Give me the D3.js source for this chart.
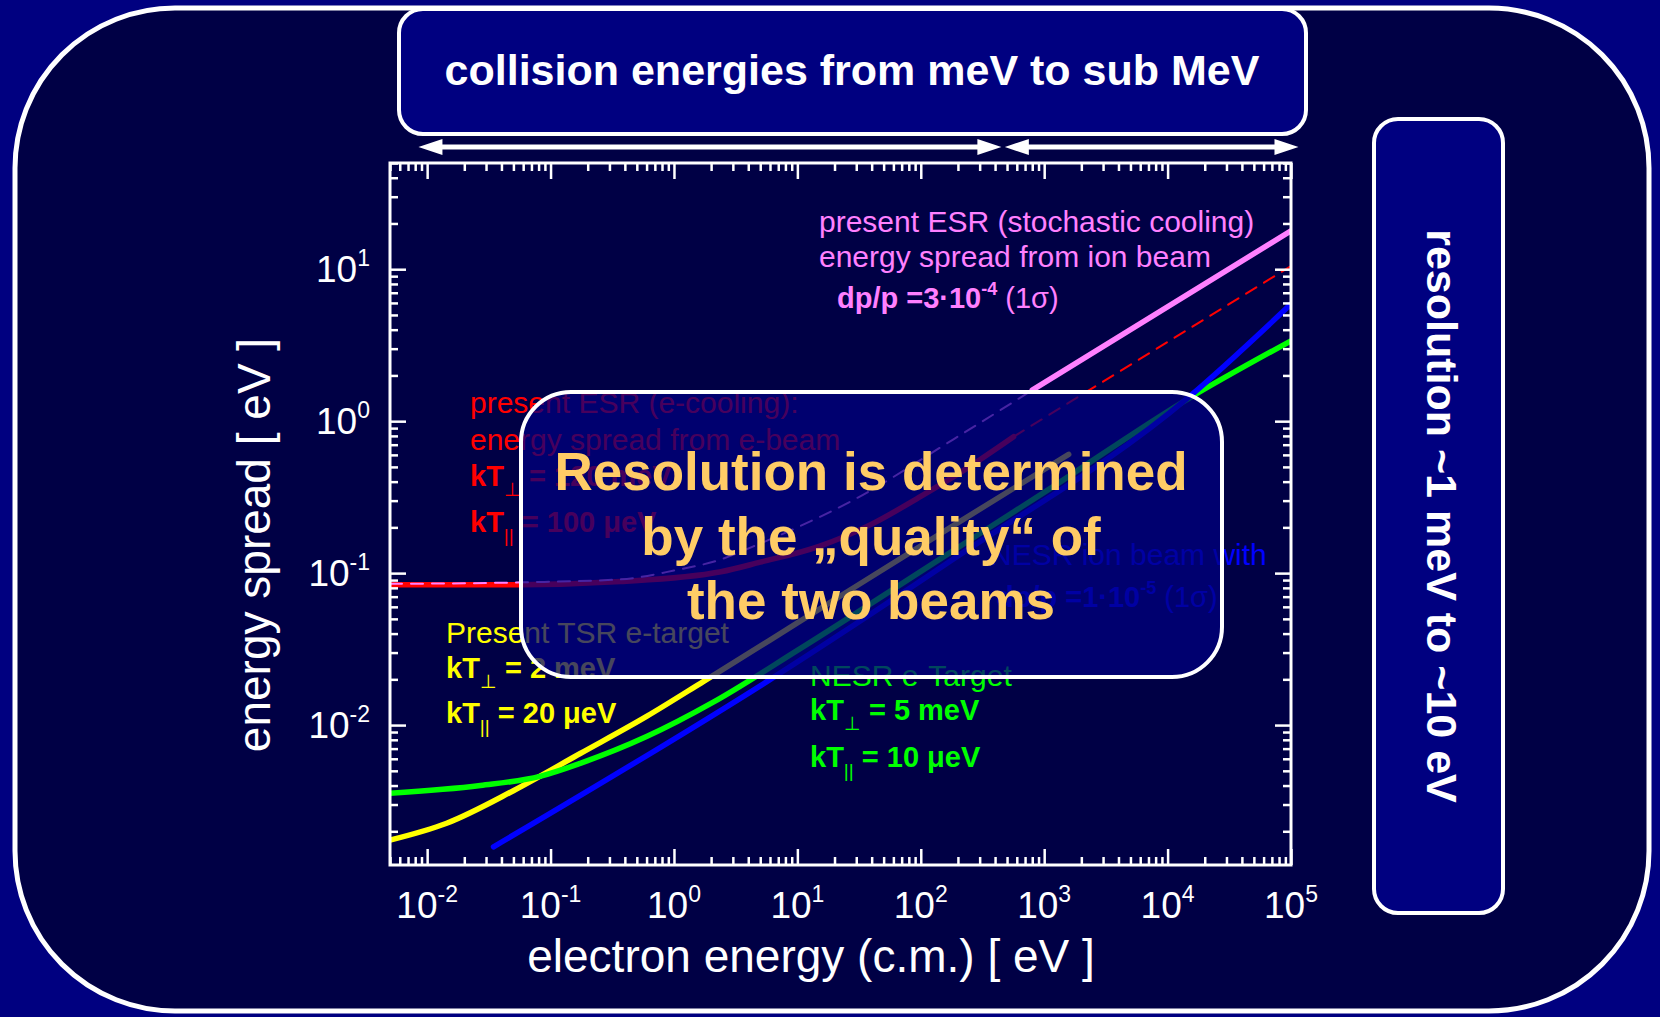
<!DOCTYPE html>
<html>
<head>
<meta charset="utf-8">
<script src="https://cdn.jsdelivr.net/npm/d3@7"></script>
<style>
  body { margin: 0; background: #000080; }
  svg { display: block; font-family: "Liberation Sans", Arial, sans-serif; }
</style>
</head>
<body>
<svg id="chart" width="1660" height="1017"></svg>
<script>
// DATA  (energy (c.m.) in eV, energy spread in eV)

var xDomain = [0.005, 1e5];
var yDomain = [0.0012, 50];
var xDecades = [-2, -1, 0, 1, 2, 3, 4, 5];
var yDecades = [-2, -1, 0, 1];

// present ESR e-cooling (red)
var esrCooling = [[0.005, 0.084], [0.057, 0.084], [0.37, 0.088], [2.4, 0.102], [5, 0.118],
                  [15, 0.15], [40, 0.21], [100, 0.32], [210, 0.46], [565, 0.79]];
var esrCoolingExt = [[565, 0.79], [1e5, 10.5]];
// present ESR stochastic cooling (pink) and combined ESR resolution (pink dashed)
var esrStochastic = [[800, 1.6], [1e5, 17.9]];
var esrCombined = [[0.005, 0.085], [0.06, 0.087], [0.37, 0.091], [1, 0.104], [2.4, 0.123],
                   [4.4, 0.15], [10, 0.2], [30, 0.31], [184, 0.76], [800, 1.6]];
// present TSR e-target (yellow)
var tsrTarget = [[0.005, 0.00175], [0.0144, 0.00226], [0.05, 0.0037], [0.174, 0.0065], [0.6, 0.0114],
                 [1.74, 0.0194], [10, 0.047], [210, 0.22], [1580, 0.605]];
// NESR e-target (green)
var nesrTarget = [[0.005, 0.00356], [0.027, 0.004], [0.082, 0.0046], [0.174, 0.0056], [0.6, 0.0084],
                  [2.1, 0.0142], [10, 0.031], [174, 0.137], [1000, 0.34], [15000, 1.42], [1e5, 3.38]];
// NESR ion beam dp/p = 1e-5 (blue)
var nesrIon = [[0.0345, 0.00158], [5.7, 0.0194], [174, 0.12], [15000, 1.45], [1e5, 5.9]];

// arrows under the top box, in eV
var arrowLow = [0.0085, 450];
var arrowHigh = [480, 1.15e5];


var svg = d3.select("#chart");

// BACKGROUND PANELS

svg.append("rect").attr("width", 1660).attr("height", 1017).attr("fill", "#000080");
svg.append("rect")
    .attr("x", 15).attr("y", 8).attr("width", 1634).attr("height", 1003)
    .attr("rx", 160).attr("ry", 160)
    .attr("fill", "#000045").attr("stroke", "#fff").attr("stroke-width", 5);

svg.append("rect")
    .attr("x", 399).attr("y", 9).attr("width", 907).attr("height", 125).attr("rx", 24)
    .attr("fill", "#000080").attr("stroke", "#fff").attr("stroke-width", 4);
svg.append("text")
    .attr("x", 852).attr("y", 85).attr("text-anchor", "middle")
    .attr("fill", "#fff").attr("font-weight", "bold").attr("font-size", 43)
    .text("collision energies from meV to sub MeV");

svg.append("rect")
    .attr("x", 1374).attr("y", 119).attr("width", 129).attr("height", 794).attr("rx", 24)
    .attr("fill", "#000080").attr("stroke", "#fff").attr("stroke-width", 4);
svg.append("text")
    .attr("transform", "translate(1427,516) rotate(90)")
    .attr("text-anchor", "middle")
    .attr("fill", "#fff").attr("font-weight", "bold").attr("font-size", 43)
    .text("resolution ~1 meV to ~10 eV");

// SCALES

var x = d3.scaleLog().domain(xDomain).range([390, 1291]);
var y = d3.scaleLog().domain(yDomain).range([865, 163]);

// double arrows
function dblArrow(span, yy) {
    var a = x(span[0]), b = x(span[1]);
    svg.append("line").attr("x1", a + 15).attr("x2", b - 15).attr("y1", yy).attr("y2", yy)
        .attr("stroke", "#fff").attr("stroke-width", 5);
    svg.append("path")
        .attr("d", "M" + a + "," + yy + "L" + (a + 24) + "," + (yy - 8) + "L" + (a + 24) + "," + (yy + 8) + "Z"
             + "M" + b + "," + yy + "L" + (b - 24) + "," + (yy - 8) + "L" + (b - 24) + "," + (yy + 8) + "Z")
        .attr("fill", "#fff");
}
dblArrow(arrowLow, 147);
dblArrow(arrowHigh, 147);

// CURVES

svg.append("clipPath").attr("id", "plotclip")
    .append("rect").attr("x", 390).attr("y", 163).attr("width", 901).attr("height", 702);

var line = d3.line()
    .x(function(d) { return x(d[0]); })
    .y(function(d) { return y(d[1]); })
    .curve(d3.curveMonotoneX);

var plot = svg.append("g").attr("clip-path", "url(#plotclip)");

function curve(data, color, width, dash) {
    plot.append("path").datum(data)
        .attr("d", line)
        .attr("fill", "none")
        .attr("stroke", color)
        .attr("stroke-width", width)
        .attr("stroke-linecap", "round")
        .attr("stroke-dasharray", dash || null);
}

curve(esrCooling, "#ff0000", 5.5);
curve(esrCoolingExt, "#ff0000", 2, "12,9");
curve(esrCombined, "#ff80ff", 2, "12,9");
curve(esrStochastic, "#ff80ff", 5.5);
curve(tsrTarget, "#ffff00", 5.5);
curve(nesrTarget, "#00ff00", 5.5);
curve(nesrIon, "#0000ff", 5.5);

// CURVE LABELS

function plain(x0, y0, str, color) {
    svg.append("text").attr("x", x0).attr("y", y0)
        .attr("fill", color).attr("font-size", 30).text(str);
}

function ktLine(x0, y0, sub, rest, color) {
    var t = svg.append("text").attr("x", x0).attr("y", y0)
        .attr("fill", color).attr("font-weight", "bold").attr("font-size", 29);
    t.append("tspan").text("kT");
    t.append("tspan").attr("font-size", 19).attr("font-weight", "normal").attr("dy", 10).text(sub);
    t.append("tspan").attr("dy", -10).text(rest);
}

function dpLine(x0, y0, val, ex, color) {
    var t = svg.append("text").attr("x", x0).attr("y", y0)
        .attr("fill", color).attr("font-size", 29);
    t.append("tspan").attr("font-weight", "bold").text("dp/p =" + val + "\u00b710");
    t.append("tspan").attr("font-weight", "bold").attr("font-size", 18).attr("dy", -13).text(ex);
    t.append("tspan").attr("dy", 13).text(" (1\u03c3)");
}

plain(819, 232, "present ESR (stochastic cooling)", "#ff80ff");
plain(819, 267, "energy spread from ion beam", "#ff80ff");
dpLine(837, 308, "3", "-4", "#ff80ff");

plain(470, 413, "present ESR (e-cooling):", "#ff0000");
plain(470, 450, "energy spread from e-beam", "#ff0000");
ktLine(470, 486, "\u22a5", " = 120 meV", "#ff0000");
ktLine(470, 532, "||", " = 100 \u03bceV", "#ff0000");

plain(446, 643, "Present TSR e-target", "#ffff00");
ktLine(446, 678, "\u22a5", " = 2 meV", "#ffff00");
ktLine(446, 723, "||", " = 20 \u03bceV", "#ffff00");

plain(810, 686, "NESR e-Target", "#00ff00");
ktLine(810, 720, "\u22a5", " = 5 meV", "#00ff00");
ktLine(810, 767, "||", " = 10 \u03bceV", "#00ff00");

plain(990, 565, "NESR ion beam with", "#0000ff");
dpLine(996, 607, "1", "-5", "#0000ff");

// AXES

function minors(domain) {
    var out = [];
    for (var p = -4; p <= 5; p++) {
        for (var m = 2; m <= 9; m++) {
            var v = m * Math.pow(10, p);
            if (v >= domain[0] && v <= domain[1]) out.push(v);
        }
    }
    return out;
}
var xMajor = xDecades.map(function(p) { return Math.pow(10, p); });
var yMajor = yDecades.map(function(p) { return Math.pow(10, p); });

function axis(gen, scale, vals, size, tr) {
    var g = svg.append("g").attr("transform", tr)
        .call(gen(scale).tickValues(vals).tickSize(-size).tickFormat(""));
    g.select(".domain").remove();
    g.selectAll(".tick line").attr("stroke", "#fff").attr("stroke-width", 2.5);
}

axis(d3.axisBottom, x, xMajor, 16, "translate(0,865)");
axis(d3.axisBottom, x, minors(xDomain), 8, "translate(0,865)");
axis(d3.axisTop, x, xMajor, 16, "translate(0,163)");
axis(d3.axisTop, x, minors(xDomain), 8, "translate(0,163)");
axis(d3.axisLeft, y, yMajor, 16, "translate(390,0)");
axis(d3.axisLeft, y, minors(yDomain), 8, "translate(390,0)");
axis(d3.axisRight, y, yMajor, 16, "translate(1291,0)");
axis(d3.axisRight, y, minors(yDomain), 8, "translate(1291,0)");

svg.append("rect").attr("x", 390).attr("y", 163).attr("width", 901).attr("height", 702)
    .attr("fill", "none").attr("stroke", "#fff").attr("stroke-width", 3);

xDecades.forEach(function(p) {
    var t = svg.append("text").attr("x", x(Math.pow(10, p))).attr("y", 918)
        .attr("text-anchor", "middle").attr("fill", "#fff").attr("font-size", 37);
    t.append("tspan").text("10");
    t.append("tspan").attr("dy", -16).attr("font-size", 23).text(p);
});

yDecades.forEach(function(p) {
    var t = svg.append("text").attr("x", 370).attr("y", y(Math.pow(10, p)) + 13)
        .attr("text-anchor", "end").attr("fill", "#fff").attr("font-size", 37);
    t.append("tspan").text("10");
    t.append("tspan").attr("dy", -16).attr("font-size", 23).text(p);
});

svg.append("text")
    .attr("x", 811).attr("y", 972).attr("text-anchor", "middle")
    .attr("fill", "#fff").attr("font-size", 46)
    .text("electron energy (c.m.) [ eV ]");

svg.append("text")
    .attr("transform", "translate(270,545) rotate(-90)").attr("text-anchor", "middle")
    .attr("fill", "#fff").attr("font-size", 46)
    .text("energy spread [ eV ]");

// OVERLAY BOX

svg.append("rect")
    .attr("x", 521).attr("y", 392).attr("width", 701).attr("height", 285).attr("rx", 50)
    .attr("fill", "#000080").attr("fill-opacity", 0.72)
    .attr("stroke", "#fff").attr("stroke-width", 4);

var boxLines = ["Resolution is determined", "by the \u201equality\u201c of", "the two beams"];
svg.append("g").selectAll("text").data(boxLines).enter().append("text")
    .attr("x", 871)
    .attr("y", function(d, i) { return 490 + i * 64.5; })
    .attr("text-anchor", "middle")
    .attr("fill", "#ffcc66").attr("font-weight", "bold").attr("font-size", 53)
    .text(function(d) { return d; });
</script>
</body>
</html>
